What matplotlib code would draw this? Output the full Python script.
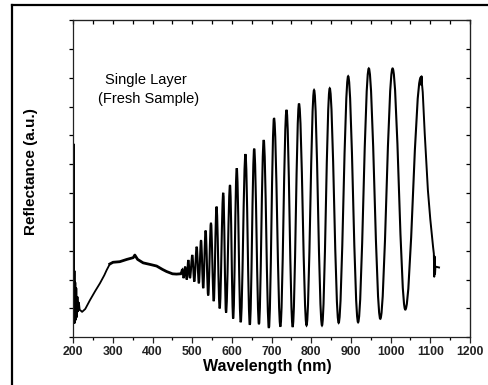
import matplotlib
matplotlib.use('Agg')
import matplotlib.pyplot as plt
from matplotlib.path import Path
from matplotlib.patches import PathPatch
from matplotlib.lines import Line2D
from matplotlib.ticker import MultipleLocator, NullFormatter

plt.rcParams['font.family'] = ['Liberation Sans', 'DejaVu Sans']

# noisy start of the scan (wavelength nm, reflectance a.u.)
start_wl = [200.3, 200.8, 201.3, 202, 203, 204, 205, 206, 207.5, 209, 210.5, 212, 214,
            216, 219, 222, 230, 242, 255, 267, 278, 284, 292]
start_r = [1.0, 6.7, 2.2, 0.5, 2.3, 0.5, 1.9, 0.6, 1.7, 0.7, 1.4, 0.9, 1.2,
           0.95, 0.92, 0.88, 0.98, 1.29, 1.6, 1.87, 2.15, 2.33, 2.54]

# broad hump, noisy trace
hump_wl = [292, 300, 317, 335, 351, 355, 362, 376, 395, 410, 425, 435, 450, 460, 470]
hump_r = [2.54, 2.6, 2.62, 2.7, 2.76, 2.85, 2.7, 2.58, 2.52, 2.47, 2.35, 2.28, 2.2, 2.19, 2.2]

# interference fringes: alternating maxima / minima
osc_wl = [470, 475, 478, 482, 486, 490, 494, 500, 505, 511,
          516.5, 522, 527.5, 533.5, 540, 547, 554, 561, 569, 578,
          585, 595, 603, 612, 622, 634, 645, 656, 668, 680,
          693, 706, 722, 737.5, 753, 769, 788, 807, 827, 846.5,
          869, 893, 918, 945, 974, 1005, 1037, 1076]
osc_r = [2.2, 2.35, 2.05, 2.45, 2.0, 2.68, 2.05, 2.85, 1.93, 3.14,
         1.87, 3.37, 1.7, 3.7, 1.45, 3.97, 1.25, 4.53, 1.0, 5.01,
         0.85, 5.28, 0.65, 5.86, 0.52, 6.35, 0.43, 6.54, 0.45, 6.84,
         0.32, 7.6, 0.37, 7.88, 0.36, 8.1, 0.41, 8.57, 0.41, 8.63,
         0.5, 9.05, 0.52, 9.32, 0.64, 9.32, 0.96, 9.0]

# tail of the scan
end_wl = [1076, 1077, 1078, 1079, 1081, 1086, 1094, 1100, 1107, 1109, 1110, 1111, 1112, 1113, 1122]
end_r = [9.0, 8.75, 9.05, 8.8, 8.5, 7.07, 5.1, 4.1, 3.14, 2.9, 2.1, 2.8, 2.2, 2.45, 2.42]

xticks = [200, 300, 400, 500, 600, 700, 800, 900, 1000, 1100, 1200]

fig = plt.figure(figsize=(4.89, 3.85), dpi=100)
ax = fig.add_axes([0.150, 0.124, 0.811, 0.824])

ax.plot(start_wl, start_r, color='black', lw=1.3)
ax.plot(hump_wl, hump_r, color='black', lw=2.0)
ax.plot(end_wl, end_r, color='black', lw=1.4)

# smooth fringes: cubic segments with flat tangents at each extremum
h = 0.3634
verts = [(osc_wl[0], osc_r[0])]
codes = [Path.MOVETO]
for i in range(1, len(osc_wl)):
    x0, y0 = osc_wl[i - 1], osc_r[i - 1]
    x1, y1 = osc_wl[i], osc_r[i]
    w = x1 - x0
    verts += [(x0 + h * w, y0), (x1 - h * w, y1), (x1, y1)]
    codes += [Path.CURVE4] * 3
ax.add_patch(PathPatch(Path(verts, codes), facecolor='none', edgecolor='black', lw=1.5))

ax.set_xlim(200, 1200)
ax.set_ylim(0, 11)
ax.set_xticks(xticks)
ax.xaxis.set_minor_locator(MultipleLocator(50))
ax.yaxis.set_major_locator(MultipleLocator(1))
ax.yaxis.set_major_formatter(NullFormatter())

for s in ax.spines.values():
    s.set_linewidth(0.9)
    s.set_color('#222222')

ax.tick_params(axis='x', which='major', direction='out', length=4, width=0.9,
               top=False, labelsize=8.8, pad=2.5, colors='#222222')
ax.tick_params(axis='x', which='minor', direction='out', length=2.5, width=0.9, top=False)
ax.tick_params(axis='y', which='major', direction='out', length=3, width=0.9)
for lab in ax.get_xticklabels():
    lab.set_fontweight('bold')

# inward ticks on top and right
sec_x = ax.secondary_xaxis('top')
sec_x.set_xticks(range(200, 1201, 50))
sec_x.tick_params(direction='in', length=3, width=0.9, labeltop=False)
sec_x.xaxis.set_major_formatter(NullFormatter())
sec_y = ax.secondary_yaxis('right')
sec_y.yaxis.set_major_locator(MultipleLocator(1))
sec_y.tick_params(direction='in', length=3, width=0.9, labelright=False)
sec_y.yaxis.set_major_formatter(NullFormatter())

ax.set_xlabel('Wavelength (nm)', fontsize=11.5, fontweight='bold')
ax.xaxis.set_label_coords(0.488, -0.07)
ax.set_ylabel('Reflectance (a.u.)', fontsize=11, fontweight='bold')
ax.yaxis.set_label_coords(-0.09, 0.521)

ax.text(0.183, 0.811, 'Single Layer', transform=ax.transAxes, fontsize=10.5,
        ha='center', va='center')
ax.text(0.189, 0.751, '(Fresh Sample)', transform=ax.transAxes, fontsize=10.5,
        ha='center', va='center')

# frame around the figure (left and top edges visible)
fig.add_artist(Line2D([12 / 489, 12 / 489], [0, 1 - 5 / 385], color='black', lw=1.6))
fig.add_artist(Line2D([12 / 489, 1], [1 - 5 / 385, 1 - 5 / 385], color='black', lw=1.6))

fig.savefig('out.png', dpi=100)
